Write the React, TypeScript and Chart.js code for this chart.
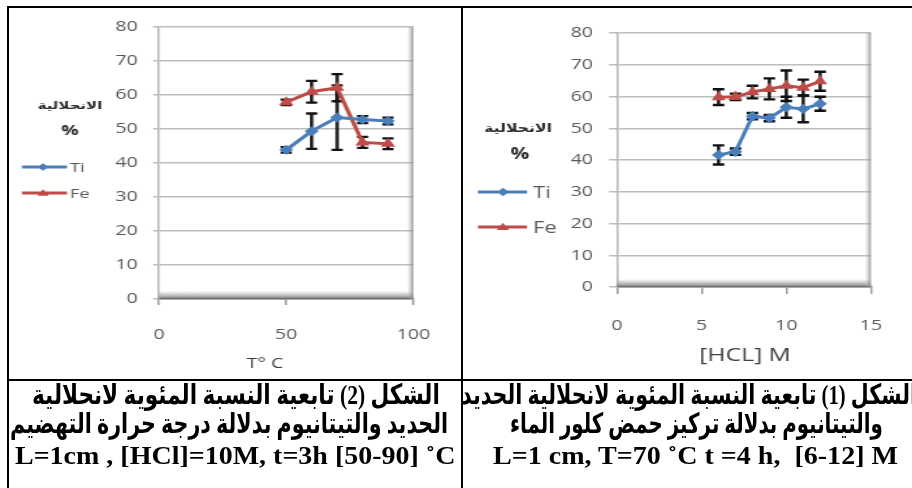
import React, { useEffect, useLayoutEffect, useRef } from 'react';
import { Chart, registerables } from 'chart.js';
Chart.register(...registerables);

// ---------- data ----------
const seriesNames = ['Ti', 'Fe'];
const yMin = 0;
const yMax = 80;
const yStep = 10;

const tempValues = [50, 60, 70, 80, 90];
const tiTemp = [43.9, 49.4, 53.4, 52.8, 52.4];
const tiTempErr = [0.8, 5.2, 9.5, 1.0, 1.0];
const feTemp = [57.9, 61.0, 62.2, 46.1, 45.7];
const feTempErr = [0.8, 3.2, 4.0, 1.6, 1.6];
const tempAxis = { min: 0, max: 100, step: 50 };

const hclValues = [6, 7, 8, 9, 10, 11, 12];
const tiHcl = [41.6, 42.6, 53.8, 53.2, 56.6, 56.1, 57.7];
const tiHclErr = [3.0, 1.0, 1.0, 1.0, 3.3, 4.2, 2.2];
const feHcl = [59.8, 59.9, 61.4, 62.4, 63.4, 62.8, 64.8];
const feHclErr = [2.5, 1.0, 2.0, 3.3, 4.8, 2.5, 3.0];
const hclAxis = { min: 0, max: 15, step: 5 };

const yTitle = 'الانحلالية';
const yUnit = '%';
const tempTitle = 'T° C';
const hclTitle = '[HCL] M';

const captionLeft = [
  'الشكل (2) تابعية النسبة المئوية لانحلالية',
  'الحديد والتيتانيوم بدلالة درجة حرارة التهضيم',
  'L=1cm , [HCl]=10M, t=3h [50-90] ˚C',
];
const captionRight = [
  'الشكل (1) تابعية النسبة المئوية لانحلالية الحديد',
  'والتيتانيوم بدلالة تركيز حمض كلور الماء',
  'L=1 cm, T=70 ˚C t =4 h,\u00a0 [6-12] M',
];

const TI_COLOR = '#4a7ebb';
const FE_COLOR = '#be4b48';

// ---------- plugins ----------
const shadePlugin = {
  id: 'shade',
  beforeDatasetsDraw(chart: any) {
    const { ctx, chartArea: a } = chart;
    ctx.save();
    const gb = ctx.createLinearGradient(0, a.bottom - 8, 0, a.bottom);
    gb.addColorStop(0, 'rgba(160,160,160,0)');
    gb.addColorStop(0.5, 'rgba(150,150,150,0.55)');
    gb.addColorStop(1, 'rgba(105,105,105,0.95)');
    ctx.fillStyle = gb;
    ctx.fillRect(a.left, a.bottom - 8, a.right - a.left, 8);
    const gr = ctx.createLinearGradient(a.right - 4.5, 0, a.right, 0);
    gr.addColorStop(0, 'rgba(170,170,170,0)');
    gr.addColorStop(1, 'rgba(140,140,140,0.85)');
    ctx.fillStyle = gr;
    ctx.fillRect(a.right - 4.5, a.top, 4.5, a.bottom - a.top);
    ctx.restore();
  },
};

const errorBarPlugin = {
  id: 'errorBars',
  beforeDatasetsDraw(chart: any, _args: any, opts: any) {
    const { ctx } = chart;
    const xs = chart.scales.x;
    const ys = chart.scales.y;
    ctx.save();
    ctx.strokeStyle = '#111';
    ctx.lineWidth = opts.lineWidth || 2;
    const cap = opts.cap || 4;
    chart.data.datasets.forEach((ds: any) => {
      const errs = ds.errors;
      if (!errs) return;
      ds.data.forEach((p: any, i: number) => {
        const x = xs.getPixelForValue(p.x);
        const y1 = ys.getPixelForValue(p.y + errs[i]);
        const y2 = ys.getPixelForValue(p.y - errs[i]);
        ctx.beginPath();
        ctx.moveTo(x, y1);
        ctx.lineTo(x, y2);
        ctx.moveTo(x - cap, y1);
        ctx.lineTo(x + cap, y1);
        ctx.moveTo(x - cap, y2);
        ctx.lineTo(x + cap, y2);
        ctx.stroke();
      });
    });
    ctx.restore();
  },
};

function drawMarker(ctx: CanvasRenderingContext2D, style: string, x: number, y: number, r: number, color: string) {
  ctx.fillStyle = color;
  ctx.beginPath();
  if (style === 'triangle') {
    ctx.moveTo(x, y - r);
    ctx.lineTo(x + r * 1.1, y + r * 0.7);
    ctx.lineTo(x - r * 1.1, y + r * 0.7);
  } else {
    ctx.moveTo(x, y - r);
    ctx.lineTo(x + r, y);
    ctx.lineTo(x, y + r);
    ctx.lineTo(x - r, y);
  }
  ctx.closePath();
  ctx.fill();
}

const annotPlugin = {
  id: 'annot',
  afterDraw(chart: any, _args: any, o: any) {
    const { ctx } = chart;
    ctx.save();
    chart.data.datasets.forEach((ds: any, i: number) => {
      const y = o.legendY[i];
      ctx.strokeStyle = ds.borderColor;
      ctx.lineWidth = 3;
      ctx.beginPath();
      ctx.moveTo(o.legendX1, y);
      ctx.lineTo(o.legendX2, y);
      ctx.stroke();
      drawMarker(ctx, ds.pointStyle, o.legendMX, y, o.legendR, ds.backgroundColor);
      ctx.fillStyle = '#595959';
      ctx.font = o.legendFont;
      ctx.textAlign = 'left';
      ctx.textBaseline = 'middle';
      ctx.fillText(ds.label, o.legendTX, y + 1);
    });
    ctx.fillStyle = '#2a2a2a';
    ctx.textAlign = 'center';
    ctx.textBaseline = 'middle';
    ctx.font = o.yTitleFont;
    ctx.fillText(yTitle, o.yTitleX, o.yTitleY, o.yTitleW);
    ctx.font = o.yUnitFont;
    ctx.fillText(yUnit, o.yUnitX, o.yUnitY);
    ctx.fillStyle = '#404040';
    ctx.font = o.xTitleFont;
    ctx.fillText(o.xTitle, o.xTitleX, o.xTitleY);
    ctx.restore();
  },
};

function makeConfig(g: any) {
  const tickColor = '#595959';
  return {
    type: 'scatter',
    data: {
      datasets: [
        {
          label: seriesNames[0],
          data: g.xs.map((x: number, i: number) => ({ x, y: g.ti[i] })),
          errors: g.tiErr,
          showLine: true,
          borderColor: TI_COLOR,
          backgroundColor: TI_COLOR,
          borderWidth: 3,
          pointStyle: 'rectRot',
          pointRadius: g.pr,
          pointBorderWidth: 0,
          tension: 0,
        },
        {
          label: seriesNames[1],
          data: g.xs.map((x: number, i: number) => ({ x, y: g.fe[i] })),
          errors: g.feErr,
          showLine: true,
          borderColor: FE_COLOR,
          backgroundColor: FE_COLOR,
          borderWidth: 3,
          pointStyle: 'triangle',
          pointRadius: g.pr + 1,
          pointBorderWidth: 0,
          tension: 0,
        },
      ],
    },
    options: {
      animation: false,
      responsive: false,
      devicePixelRatio: 1,
      events: [],
      layout: { padding: { left: 0, top: g.padTop, right: g.padRight, bottom: 0 } },
      plugins: {
        legend: { display: false },
        tooltip: { enabled: false },
        errorBars: { lineWidth: g.ebWidth, cap: g.ebCap },
        annot: g.annot,
      },
      scales: {
        x: {
          type: 'linear',
          min: g.axis.min,
          max: g.axis.max,
          ticks: { stepSize: g.axis.step, color: tickColor, font: { family: 'Open Sans', size: g.fontX }, padding: g.xPad },
          grid: { drawOnChartArea: false, color: '#9a9a9a', lineWidth: 1.5, tickLength: g.xTick },
          border: { color: '#7a7a7a', width: 1.5 },
          afterFit: (s: any) => { s.height = g.xHeight; },
        },
        y: {
          type: 'linear',
          min: yMin,
          max: yMax,
          ticks: { stepSize: yStep, color: tickColor, font: { family: 'Open Sans', size: g.fontY }, padding: g.yPad },
          grid: { color: '#bdbdbd', lineWidth: 1.5, tickLength: g.yTick },
          border: { color: '#b5b5b5', width: 1.5 },
          afterFit: (s: any) => { s.width = g.yWidth; },
        },
      },
    },
    plugins: [shadePlugin, errorBarPlugin, annotPlugin],
  };
}

const leftGeom = {
  xs: tempValues, ti: tiTemp, tiErr: tiTempErr, fe: feTemp, feErr: feTempErr, axis: tempAxis,
  w: 323, h: 371, left: 9, top: 8, cssW: 452,
  padTop: 9, padRight: 22.3, yWidth: 107.2, xHeight: 80,
  fontX: 14, fontY: 14, xPad: 22, yPad: 10.8, xTick: 6, yTick: 4.3,
  pr: 5, ebWidth: 2.3, ebCap: 4,
  annot: {
    legendY: [159, 185], legendX1: 9.3, legendX2: 41.4, legendMX: 24.3, legendTX: 43.6, legendR: 3.8,
    legendFont: '13px "Open Sans"',
    yTitleFont: 'bold 11px "DejaVu Sans"', yTitleX: 43.6, yTitleY: 98, yTitleW: 46,
    yUnitFont: 'bold 14px "Open Sans"', yUnitX: 43.6, yUnitY: 123,
    xTitle: tempTitle, xTitleFont: '14px "Open Sans"', xTitleX: 182.9, xTitleY: 356,
  },
};

const rightGeom = {
  xs: hclValues, ti: tiHcl, tiErr: tiHclErr, fe: feHcl, feErr: feHclErr, axis: hclAxis,
  w: 345, h: 371, left: 463, top: 8, cssW: 449,
  padTop: 25, padRight: 10, yWidth: 118.3, xHeight: 92,
  fontX: 15, fontY: 15, xPad: 23, yPad: 12.4, xTick: 7, yTick: 6.1,
  pr: 5.2, ebWidth: 2.4, ebCap: 4.4,
  annot: {
    legendY: [184, 219], legendX1: 11.5, legendX2: 49.2, legendMX: 30.7, legendTX: 53.8, legendR: 4.3,
    legendFont: '17px "Open Sans"',
    yTitleFont: 'bold 12px "DejaVu Sans"', yTitleX: 42.3, yTitleY: 121, yTitleW: 54,
    yUnitFont: 'bold 16px "Open Sans"', yUnitX: 43.8, yUnitY: 146,
    xTitle: hclTitle, xTitleFont: '19px "Open Sans"', xTitleX: 216.7, xTitleY: 348,
  },
};

function ChartBox({ g }: { g: any }) {
  const ref = useRef<HTMLCanvasElement>(null);
  useEffect(() => {
    const chart = new Chart(ref.current as HTMLCanvasElement, makeConfig(g) as any);
    return () => chart.destroy();
  }, []);
  const sx = g.cssW / g.w;
  return (
    <div style={{ position: 'absolute', left: g.left, top: g.top, width: g.w, height: g.h, transform: `scaleX(${sx})`, transformOrigin: '0 0' }}>
      <canvas ref={ref} width={g.w} height={g.h} style={{ display: 'block', width: g.w, height: g.h }} />
    </div>
  );
}

// x: anchor x (page), top: line box top (page), width: target rendered width
function CapLine({ text, dir, x, top, width, anchor, font }: any) {
  const ref = useRef<HTMLSpanElement>(null);
  useLayoutEffect(() => {
    const fit = () => {
      const el = ref.current;
      if (!el) return;
      el.style.transform = 'none';
      const w = el.offsetWidth;
      const s = width / w;
      const left = anchor === 'right' ? x - width : x - width / 2;
      el.style.left = left + 'px';
      el.style.transform = `scaleX(${s})`;
    };
    fit();
    (document as any).fonts?.ready?.then(fit);
  }, []);
  return (
    <span
      ref={ref}
      dir={dir}
      style={{
        position: 'absolute', top, left: 0, height: 32, lineHeight: '32px', whiteSpace: 'pre',
        font, color: '#000', transformOrigin: '0 50%', display: 'block',
      }}
    >
      {text}
    </span>
  );
}

const AR_FONT = 'bold 28px "Liberation Serif", "DejaVu Sans", serif';
const LAT_FONT = 'bold 25px "Liberation Serif", serif';

export default function App() {
  const line = (l: number, t: number, w: number, h: number) => (
    <div style={{ position: 'absolute', left: l, top: t, width: w, height: h, background: '#000' }} />
  );
  return (
    <div style={{ position: 'absolute', left: 0, top: 0, width: 912, height: 488, overflow: 'hidden', background: '#fff' }}>
      <ChartBox g={leftGeom} />
      <ChartBox g={rightGeom} />
      <div style={{ position: 'absolute', left: 9, top: 0, width: 452, height: 488, overflow: 'hidden' }}>
        <div style={{ position: 'absolute', left: -9, top: 0 }}>
          <CapLine text={captionLeft[0]} dir="rtl" x={236} top={378} width={408} anchor="center" font={AR_FONT} />
          <CapLine text={captionLeft[1]} dir="rtl" x={229} top={407} width={438} anchor="center" font={AR_FONT} />
          <CapLine text={captionLeft[2]} dir="ltr" x={235} top={442} width={440} anchor="center" font={LAT_FONT} />
        </div>
      </div>
      <div style={{ position: 'absolute', left: 463, top: 0, width: 449, height: 488, overflow: 'hidden' }}>
        <div style={{ position: 'absolute', left: -463, top: 0 }}>
          <CapLine text={captionRight[0]} dir="rtl" x={917} top={378} width={456} anchor="right" font={AR_FONT} />
          <CapLine text={captionRight[1]} dir="rtl" x={696} top={407} width={373} anchor="center" font={AR_FONT} />
          <CapLine text={captionRight[2]} dir="ltr" x={695} top={442} width={405} anchor="center" font={LAT_FONT} />
        </div>
      </div>
      {line(7, 6, 905, 2)}
      {line(7, 6, 2, 482)}
      {line(461, 6, 2, 482)}
      {line(7, 379, 905, 2)}
    </div>
  );
}
